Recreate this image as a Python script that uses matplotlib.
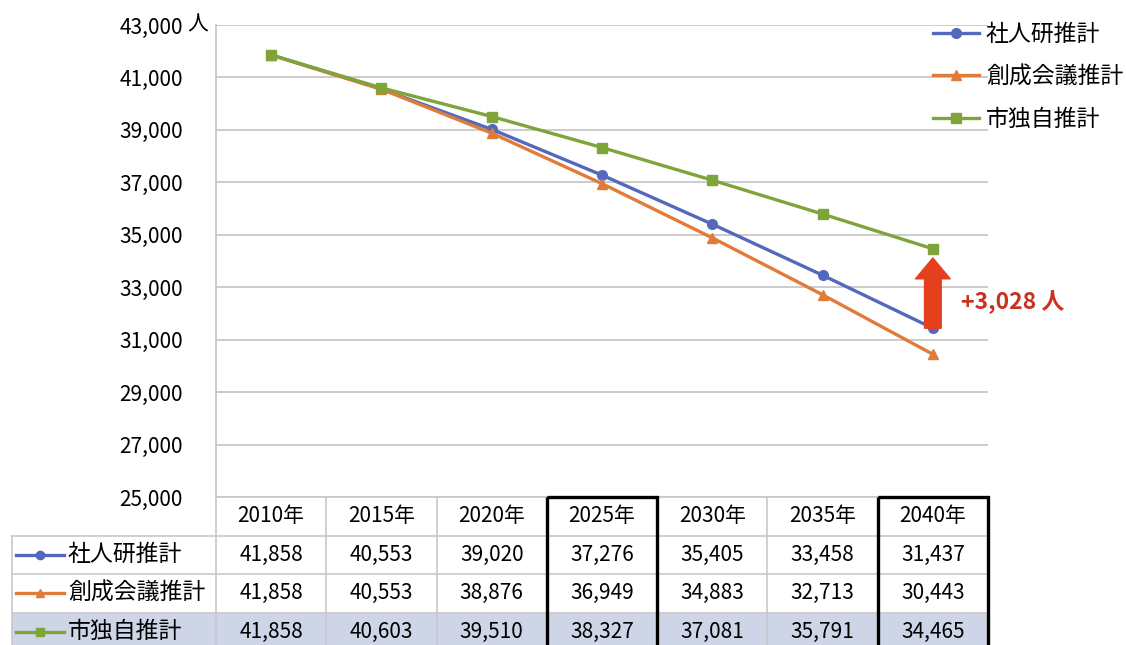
import numpy as np
import matplotlib
matplotlib.use("Agg")
import matplotlib.pyplot as plt
from matplotlib.patches import Rectangle

plt.rcParams['font.family'] = ['Noto Sans CJK JP', 'DejaVu Sans']

# データ
years = ['2010年', '2015年', '2020年', '2025年', '2030年', '2035年', '2040年']
series_names = ['社人研推計', '創成会議推計', '市独自推計']
shajinken = [41858, 40553, 39020, 37276, 35405, 33458, 31437]
sousei = [41858, 40553, 38876, 36949, 34883, 32713, 30443]
shi_dokuji = [41858, 40603, 39510, 38327, 37081, 35791, 34465]
yticks = [25000, 27000, 29000, 31000, 33000, 35000, 37000, 39000, 41000, 43000]
boxed_years = ['2025年', '2040年']

colors = ['#5468bd', '#e07b39', '#7fa53a']
markers = ['o', '^', 's']
all_series = [shajinken, sousei, shi_dokuji]

W, H = 1126, 645
fig = plt.figure(figsize=(W / 100, H / 100), dpi=100)

# グラフ本体
ax = fig.add_axes([216 / W, (H - 497) / H, 772 / W, 472 / H])
x = np.arange(len(years))
for vals, name, c, m in zip(all_series, series_names, colors, markers):
    ax.plot(x, vals, color=c, lw=2.4, marker=m, ms=7, label=name, zorder=3)

ax.set_xlim(-0.5, len(years) - 0.5)
ax.set_ylim(yticks[0], yticks[-1])
ax.set_yticks(yticks)
ax.set_yticklabels([f'{v:,}' for v in yticks], fontsize=15)
ax.tick_params(axis='y', length=0, pad=24)
ax.set_xticks([])
ax.grid(axis='y', color='#c4c4c4', lw=1.2)
for s in ['top', 'right', 'bottom']:
    ax.spines[s].set_visible(False)
ax.spines['left'].set_color('#c4c4c4')
ax.spines['left'].set_linewidth(1.2)
ax.text(-0.037, 1.0, '人', transform=ax.transAxes, fontsize=15, va='center', ha='left')

# 差分の矢印
diff = shi_dokuji[-1] - shajinken[-1]
ax.annotate('', xy=(x[-1], shi_dokuji[-1] - 350), xytext=(x[-1], shajinken[-1]),
            arrowprops=dict(arrowstyle='simple,head_length=0.75,head_width=1.25,tail_width=0.6',
                            mutation_scale=20, color='#e4401e', shrinkA=0, shrinkB=0),
            zorder=4, annotation_clip=False)
ax.annotate(f'+{diff:,} 人', xy=(x[-1], (shi_dokuji[-1] + shajinken[-1]) / 2),
            xytext=(20, -10), textcoords='offset points', fontsize=16.5, fontweight='bold',
            color='#c8321e', va='center', ha='left', annotation_clip=False)

ax.legend(loc='upper left', bbox_to_anchor=(933 / W, 1 - 23 / H), bbox_transform=fig.transFigure,
          frameon=False, fontsize=16.5, borderpad=0, borderaxespad=0, handlelength=2.0,
          handletextpad=0.3, labelspacing=0.85)

# データテーブル
unit = 772 / len(years)
label_w = 204 / unit
row_h = 38.5
tx = fig.add_axes([12 / W, 0, 976 / W, 148 / H])
tx.set_xlim(-0.5 - label_w, len(years) - 0.5)
tx.set_ylim(148 / row_h, 0)
tx.axis('off')

grid_c = '#c8c8c8'
left = -0.5 - label_w
# 市独自推計 行の背景
tx.add_patch(Rectangle((left, 3), label_w + len(years), 1, facecolor='#cdd5e6', edgecolor='none', zorder=0))

# 罫線
tx.plot([-0.5, len(years) - 0.5], [0, 0], color=grid_c, lw=1.2, clip_on=False)
for r in range(1, 4):
    tx.plot([left, len(years) - 0.5], [r, r], color=grid_c, lw=1.2, clip_on=False)
for cx in np.arange(-0.5, len(years), 1.0):
    tx.plot([cx, cx], [0, 4], color=grid_c, lw=1.2, clip_on=False)
tx.plot([left, left], [1, 4], color=grid_c, lw=1.2, clip_on=False)

for i, yr in enumerate(years):
    tx.text(i, 0.5, yr, ha='center', va='center', fontsize=15)
    for r, vals in enumerate(all_series):
        tx.text(i, r + 1.5, f'{vals[i]:,}', ha='center', va='center', fontsize=15)

for r, (name, c, m) in enumerate(zip(series_names, colors, markers)):
    yy = r + 1.5
    lx0, lx1 = left + 4 / unit, left + 52 / unit
    tx.plot([lx0, lx1], [yy, yy], color=c, lw=2.4)
    tx.plot([(lx0 + lx1) / 2], [yy], color=c, marker=m, ms=6)
    tx.text(left + 56 / unit, yy, name, ha='left', va='center', fontsize=16.5)

# 強調列の太枠
for yr in boxed_years:
    i = years.index(yr)
    tx.add_patch(Rectangle((i - 0.5, 0), 1, 4, fill=False, edgecolor='black', lw=2.4,
                           zorder=5, clip_on=False))

fig.savefig('out.png', dpi=100)
